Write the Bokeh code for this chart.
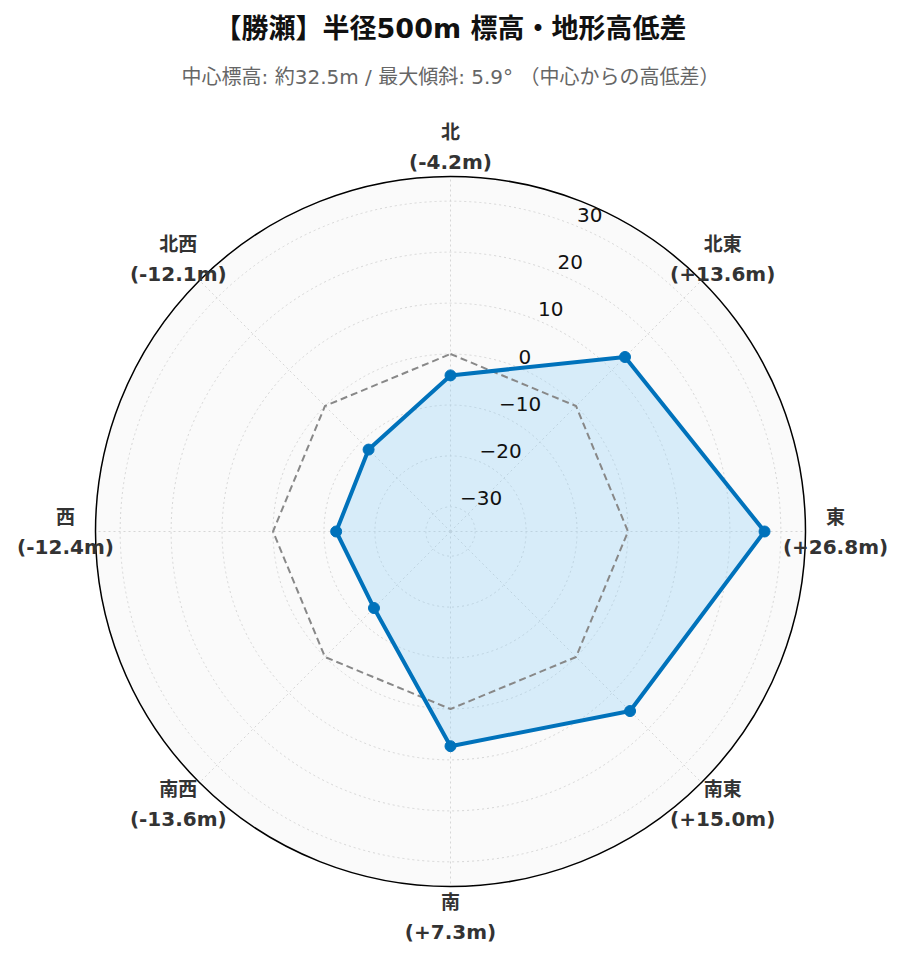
import numpy as np
from bokeh.plotting import figure
from bokeh.models import Range1d
from bokeh.core.properties import value
from bokeh.embed import file_html
from bokeh.resources import INLINE

# ---- data ----
directions = ["北", "北東", "東", "南東", "南", "南西", "西", "北西"]
angles_deg = [0, 45, 90, 135, 180, 225, 270, 315]
elev_diff = [-4.2, 13.6, 26.8, 15.0, 7.3, -13.6, -12.4, -12.1]
reference = [0, 0, 0, 0, 0, 0, 0, 0]
radial_ticks = [-30, -20, -10, 0, 10, 20, 30]
radial_range = [-34.84, 34.84]
title_text = "【勝瀬】半径500m 標高・地形高低差"
subtitle_text = "中心標高: 約32.5m / 最大傾斜: 5.9° （中心からの高低差）"

# ---- layout ----
W, H = 887, 946
CX, CY = 450, 531        # polar centre in page pixels
R = 355.0                # outer radius in px
LABEL_R = 385.0
TICK_ANGLE = 22.5

JP = "DejaVu Sans, Noto Sans CJK JP"

def rscale(v):
    return R * (np.asarray(v, dtype=float) - radial_range[0]) / (radial_range[1] - radial_range[0])

def polar_xy(v, ang):
    r = rscale(v)
    a = np.radians(np.asarray(ang, dtype=float))
    return r * np.sin(a), r * np.cos(a)

p = figure(width=W, height=H, x_range=Range1d(-CX, W - CX), y_range=Range1d(CY - H, CY),
           output_backend="svg", toolbar_location=None)
p.axis.visible = False
p.grid.visible = False
p.outline_line_color = None
p.min_border = 0
p.background_fill_color = "white"

# background disk
p.scatter([0], [0], size=2 * R, marker="circle", fill_color="#fafafa", line_color=None)

# grid circles
for t in radial_ticks:
    p.circle([0], [0], radius=float(rscale(t)), fill_color=None, line_color="#d6d6d6",
             line_width=1, line_dash="2 3")

# angular grid
for a in angles_deg:
    ex, ey = polar_xy(radial_range[1], a)
    p.line([0, float(ex)], [0, float(ey)], line_color="#d6d6d6", line_width=1, line_dash="2 3")

# outer circle
p.circle([0], [0], radius=R, fill_color=None, line_color="black", line_width=1.5)

# data polygon
dx, dy = polar_xy(elev_diff, angles_deg)
p.patch(list(dx), list(dy), fill_color="#87cefa", fill_alpha=0.3, line_color=None)

# reference dashed
rx, ry = polar_xy(reference, angles_deg)
p.line(list(rx) + [rx[0]], list(ry) + [ry[0]], line_color="#888888", line_width=2, line_dash="7 4")

# data line + markers
p.line(list(dx) + [dx[0]], list(dy) + [dy[0]], line_color="#0072bb", line_width=4, line_join="round")
p.scatter(list(dx), list(dy), size=11, marker="circle", fill_color="#0072bb", line_color="#0072bb")

# radial tick labels
tx, ty = polar_xy(radial_ticks, [TICK_ANGLE] * len(radial_ticks))
tick_labels = [("−" + str(abs(t))) if t < 0 else str(t) for t in radial_ticks]
p.text(list(tx), list(ty), text=tick_labels, text_font=value("DejaVu Sans"), text_font_size="20px",
       text_color="#111111", text_align="left", text_baseline="bottom", y_offset=-4)

# direction labels
lx = [LABEL_R * np.sin(np.radians(a)) for a in angles_deg]
ly = [LABEL_R * np.cos(np.radians(a)) for a in angles_deg]
val_labels = [f"({v:+.1f}m)" for v in elev_diff]
p.text(lx, ly, text=directions, text_font=value(JP), text_font_size="19px", text_font_style="bold",
       text_color="#333333", text_align="center", text_baseline="middle", y_offset=-15)
p.text(lx, ly, text=val_labels, text_font=value(JP), text_font_size="20px", text_font_style="bold",
       text_color="#333333", text_align="center", text_baseline="middle", y_offset=15)

# titles
p.text([0], [CY - 28], text=[title_text], text_font=value(JP), text_font_size="27px",
       text_font_style="bold", text_color="#111111", text_align="center", text_baseline="middle")
p.text([0], [CY - 76], text=[subtitle_text], text_font=value(JP), text_font_size="20px",
       text_color="#666666", text_align="center", text_baseline="middle")

open("out.html", "w").write(file_html(p, INLINE))
